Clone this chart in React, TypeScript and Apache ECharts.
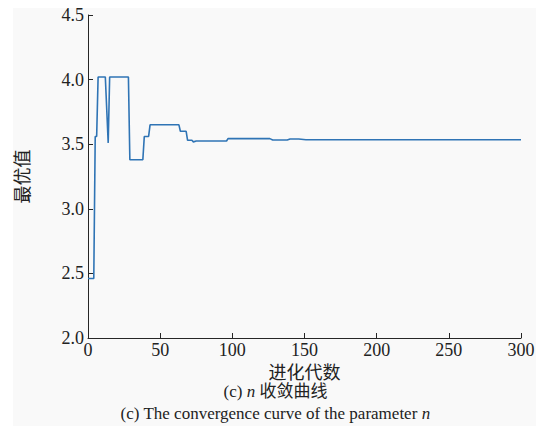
import React, { useEffect, useRef } from "react";
import * as echarts from "echarts";

const generations = [0, 4, 5, 6, 7, 12, 14, 15, 28, 29, 38, 39, 42, 43, 63, 64, 68, 69, 72, 73, 75, 96, 97, 126, 128, 138, 140, 146, 151, 300];
const bestValues = [2.46, 2.46, 3.56, 3.56, 4.02, 4.02, 3.51, 4.02, 4.02, 3.38, 3.38, 3.56, 3.56, 3.65, 3.65, 3.6, 3.6, 3.53, 3.53, 3.518, 3.525, 3.525, 3.543, 3.543, 3.533, 3.533, 3.54, 3.54, 3.535, 3.535];

const xTicks = { min: 0, max: 300, interval: 50 };
const yTicks = { min: 2.0, max: 4.5, interval: 0.5 };

const xName = "进化代数";
const yName = "最优值";
const captionCn = "(c) {i|n} 收敛曲线";
const captionEn = "(c) The convergence curve of the parameter {i|n}";

const FONT = "'Liberation Serif', 'Noto Sans CJK SC', serif";

export default function App() {
  const ref = useRef<HTMLDivElement>(null);
  useEffect(() => {
    if (!ref.current) return;
    const chart = echarts.init(ref.current, null, { renderer: "svg" });
    const axisColor = "#262626";
    chart.setOption({
      animation: false,
      backgroundColor: "#ffffff",
      textStyle: { fontFamily: FONT },
      grid: { left: 88, top: 15, right: 30, bottom: 91, containLabel: false },
      xAxis: {
        type: "value",
        min: xTicks.min,
        max: xTicks.max,
        interval: xTicks.interval,
        name: xName,
        nameLocation: "middle",
        nameGap: 26,
        nameTextStyle: { fontFamily: FONT, fontSize: 18, color: "#222" },
        axisLine: { show: true, lineStyle: { color: axisColor, width: 1 } },
        axisTick: { show: true, inside: true, length: 5, lineStyle: { color: axisColor } },
        axisLabel: { fontFamily: FONT, fontSize: 18, color: "#222", margin: 3 },
        splitLine: { show: false },
      },
      yAxis: {
        type: "value",
        min: yTicks.min,
        max: yTicks.max,
        interval: yTicks.interval,
        name: yName,
        nameLocation: "middle",
        nameRotate: 90,
        nameGap: 56,
        nameTextStyle: { fontFamily: FONT, fontSize: 18, color: "#222" },
        axisLine: { show: true, lineStyle: { color: axisColor, width: 1 } },
        axisTick: { show: true, inside: true, length: 5, lineStyle: { color: axisColor } },
        axisLabel: {
          fontFamily: FONT,
          fontSize: 18,
          color: "#222",
          margin: 4,
          formatter: (v: number) => v.toFixed(1),
        },
        splitLine: { show: false },
      },
      graphic: [
        {
          type: "rect",
          z: -10,
          silent: true,
          shape: { x: 13, y: 8, width: 523, height: 418 },
          style: { fill: "#f9f9f9" },
        },
        {
          type: "text",
          left: "center",
          top: 383,
          style: {
            text: captionCn,
            fontFamily: FONT,
            fontSize: 17,
            fill: "#222",
            rich: { i: { fontStyle: "italic", fontFamily: FONT, fontSize: 17, fill: "#222" } },
          },
        },
        {
          type: "text",
          left: "center",
          top: 405,
          style: {
            text: captionEn,
            fontFamily: FONT,
            fontSize: 17,
            fill: "#222",
            rich: { i: { fontStyle: "italic", fontFamily: FONT, fontSize: 17, fill: "#222" } },
          },
        },
      ],
      series: [
        {
          type: "line",
          data: generations.map((g, i) => [g, bestValues[i]]),
          showSymbol: false,
          symbol: "none",
          lineStyle: { color: "#2f74b5", width: 1.6 },
          clip: true,
        },
      ],
    });
    return () => chart.dispose();
  }, []);
  return (
    <div
      ref={ref}
      style={{ position: "fixed", left: 0, top: 0, width: 551, height: 429 }}
    />
  );
}
